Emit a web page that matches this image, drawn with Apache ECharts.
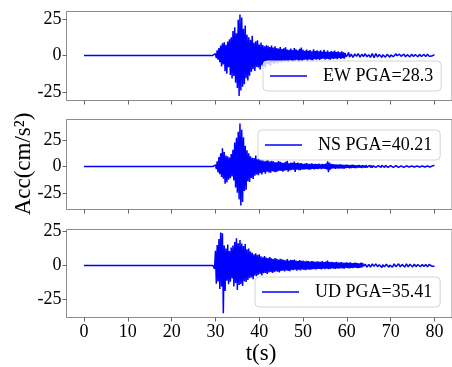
<!DOCTYPE html>
<html><head><meta charset="utf-8">
<script src="https://cdn.jsdelivr.net/npm/echarts@6.0.0/dist/echarts.min.js"></script>
<style>html,body{margin:0;padding:0;background:#fff}#c{width:452px;height:367px}</style>
</head><body><div id="c"></div>
<script>
// sampling of the record after the quiet pre-event part (s)
const T0 = 29.6, DT = 0.2;
const PRE_EVENT = [[0, 0], [29.4, 0]];

const EW = [
0.3,-0.4,1.2,-1.8,3.5,-2.9,5.2,-4.6,6.8,-7.5,
8.4,-6.2,9.1,-10.8,7.3,-12.5,9.6,-8.1,11.2,-13.4,
12.5,-15.8,16.9,-14.2,19.5,-18.7,15.3,-22.4,24.6,-27.9,
28.3,-24.1,26.2,-21.5,18.4,-19.8,20.7,-15.6,14.2,-17.3,
12.6,-13.9,10.8,-11.2,13.5,-9.4,8.7,-10.6,9.8,-7.9,
10.4,-8.2,7.5,-9.6,8.9,-6.8,7.2,-7.7,6.4,-8.5,
7.1,-5.9,6.6,-6.3,5.8,-7.1,6.9,-5.2,5.5,-6.0,
6.3,-4.8,5.1,-5.6,4.7,-4.2,5.9,-4.9,4.4,-3.8,
4.9,-4.3,5.6,-3.6,4.1,-4.7,3.9,-3.3,4.8,-4.1,
3.7,-3.9,5.2,-3.4,4.2,-3.0,3.6,-4.4,4.6,-3.2,
5.4,-3.7,3.9,-3.1,3.3,-2.8,4.1,-3.5,3.2,-2.7,
3.8,-3.2,2.9,-3.4,4.3,-2.6,3.1,-2.9,3.5,-2.5,
2.8,-3.1,3.6,-2.4,2.7,-2.2,3.9,-2.8,2.5,-2.3,
3.3,-2.6,2.4,-2.9,3.0,-2.1,2.6,-2.4,3.4,-2.0,
2.3,-2.5,2.8,-1.9,2.2,-2.3,2.9,-1.8,2.1,-2.2,
1.8,-0.9,-1.9,0.7,2.2,-1.2,-2.1,0.9,1.7,-1.4,
-1.8,1.1,2.0,-0.6,-1.9,1.3,1.6,-1.1,-1.7,0.8,
1.9,-0.7,-1.6,1.2,1.5,-0.9,-1.8,0.6,1.6,-1.3,
-1.2,1.4,0.9,-1.5,-0.8,1.3,1.1,-1.0,-1.4,0.7,
1.5,-0.4,-1.3,0.5,1.2,0.2,-1.1,-0.9,0.8,1.3,
-0.3,-1.2,0.4,1.1,0.6,-0.8,-1.0,0.5,1.2,-0.2,
-1.1,0.3,0.9,0.7,-0.6,-1.0,0.2,1.0,0.4,-0.9,
-0.7,0.6,1.1,-0.3,-1.0,0.1,0.9,0.5,-0.8,-0.6,
0.7,0.9,-0.4,-0.9,0.3,0.8,0.2,-0.7,-0.5,0.6,
0.8,-0.2,-0.8,0.4,0.9,-0.3,-0.6,0.5,0.7,-0.4,
-0.5,0.3,0.6
];

const NS = [
0.2,-0.5,1.5,-2.4,4.8,-5.6,8.9,-7.2,12.4,-9.8,
17.1,-11.5,13.6,-16.2,10.4,-14.8,9.7,-12.3,8.5,-10.9,
11.8,-9.4,15.6,-13.1,22.4,-19.7,26.8,-24.5,32.6,-30.8,
40.21,-36.4,34.5,-33.1,27.3,-22.8,19.4,-21.6,15.2,-13.7,
12.4,-14.5,9.6,-10.8,8.3,-11.6,7.9,-8.7,10.2,-7.4,
6.8,-8.1,7.4,-6.2,5.9,-7.3,6.5,-5.4,4.8,-6.6,
5.7,-4.9,6.1,-5.5,4.6,-5.8,5.3,-4.4,4.9,-5.1,
4.2,-5.4,3.9,-4.6,5.0,-3.8,4.3,-4.1,3.6,-4.8,
3.5,-3.9,4.4,-3.3,5.3,-4.9,3.1,-3.6,3.8,-3.2,
3.4,-2.9,4.7,-5.1,3.2,-2.8,3.6,-3.3,2.9,-3.5,
3.1,-2.7,2.6,-3.0,2.8,-2.4,3.3,-2.6,2.5,-2.9,
2.4,-2.6,2.9,-2.2,2.3,-2.7,2.6,-2.1,2.2,-2.5,
2.7,-2.0,2.1,-2.4,2.5,-1.9,2.3,-2.2,2.8,-2.6,
4.9,-5.2,3.6,-2.9,2.4,-2.0,2.2,-1.8,1.9,-2.1,
2.0,-1.7,1.8,-1.9,2.1,-1.6,1.7,-1.8,1.5,-1.9,
1.6,-1.4,1.8,-1.2,1.5,-1.6,1.3,-1.5,1.7,-1.1,
1.4,-1.3,1.1,-1.5,1.2,-1.0,1.4,-1.2,1.0,-1.3,
1.2,-0.9,1.0,-1.1,1.3,-0.8,0.9,-1.2,1.1,-0.9,
1.0,-1.1,0.8,-0.9,1.2,-0.7,0.9,-1.0,0.8,-0.9,
0.9,-0.8,1.1,-0.6,0.7,-0.9,1.0,-0.7,0.8,-0.8,
0.7,-0.9,0.8,-0.6,0.9,-0.7,0.6,-0.8,0.9,-0.6,
0.8,-0.7,0.6,-0.8,0.7,-0.5,0.8,-0.7,0.6,-0.6,
0.7,-0.6,0.8,-0.5,0.6,-0.7,0.5,-0.6,0.7,-0.5,
0.6,-0.7,0.5,-0.6,0.8,-0.4,0.6,-0.6,0.5,-0.7,
0.6,-0.5,0.7,-0.4,0.5,-0.6,0.7,-0.5,0.6,-0.4,
0.8,0.3,0.9
];

const UD = [
0.3,-2.5,10.8,-13.5,15.2,-11.8,19.6,-17.4,24.3,-15.6,
23.8,-35.41,14.7,-18.9,12.5,-11.3,15.4,-13.8,10.6,-12.1,
13.2,-9.7,14.8,-15.6,17.3,-12.9,20.1,-18.2,16.5,-14.4,
18.9,-13.7,16.2,-15.1,14.4,-11.6,15.8,-12.3,11.9,-10.8,
12.6,-9.5,10.3,-8.8,9.4,-10.1,8.2,-7.6,9.0,-7.9,
7.8,-6.9,8.3,-6.2,6.7,-7.4,6.1,-5.8,7.0,-5.5,
5.9,-6.3,5.4,-5.1,6.2,-4.8,5.3,-5.6,4.7,-5.0,
5.5,-4.4,4.9,-4.7,4.3,-5.2,5.0,-4.1,4.6,-3.9,
4.2,-4.5,3.8,-3.6,4.8,-4.0,3.7,-4.3,4.1,-3.4,
3.9,-3.5,4.4,-3.2,3.6,-3.8,3.3,-3.1,4.0,-3.6,
3.4,-3.0,3.7,-3.3,3.1,-3.5,3.5,-2.9,3.2,-3.1,
2.9,-3.2,3.3,-2.7,3.0,-2.8,2.7,-3.0,3.1,-2.6,
2.8,-2.5,2.6,-2.9,3.2,-2.4,2.5,-2.7,2.9,-2.3,
3.6,-2.8,2.4,-2.6,2.7,-2.2,2.5,-2.4,2.3,-2.5,
2.6,-2.1,2.3,-2.4,2.2,-1.9,2.4,-2.2,2.0,-2.3,
2.1,-1.8,2.3,-2.0,1.9,-2.1,2.2,-1.7,1.8,-2.0,
1.9,-1.6,2.1,-1.8,1.7,-1.9,1.6,-1.7,2.0,-1.5,
1.8,-0.6,-1.7,0.9,1.9,-1.2,-1.6,0.8,1.7,-1.3,
-1.5,1.1,1.6,-0.7,-1.4,1.2,1.5,-0.9,-1.6,0.6,
1.7,-0.8,-1.5,0.5,1.4,-1.0,-1.3,0.9,1.6,-0.4,
-1.4,0.3,1.3,0.6,-1.2,-0.8,1.1,1.0,-0.9,-1.3,
0.4,1.2,0.7,-1.1,-1.0,0.8,1.3,-0.3,-1.2,0.2,
1.1,0.5,-1.0,-0.7,0.9,1.0,-0.5,-1.1,0.3,0.9,
0.6,-0.9,-0.8,0.7,1.0,-0.2,-1.0,0.1,0.8,0.6,
-0.7,-0.6,0.8,0.5,-0.9,-0.3,0.7,0.6,-0.6,-0.5,
0.4,-0.3,-0.6
];

const SERIES_NAMES = ['EW PGA=28.3', 'NS PGA=40.21', 'UD PGA=35.41'];
const X_TICKS = [0, 10, 20, 30, 40, 50, 60, 70, 80];
const Y_TICKS = [-25, 0, 25];
const Y_RANGES = [[-31, 30.3], [-40.2, 44], [-38.5, 26.6]];
const X_RANGE = [-4, 84];
const Y_LABEL = 'Acc(cm/s²)';
const X_LABEL = 't(s)';

const FONT = '"Liberation Serif", "DejaVu Serif", serif';
const BLUE = '#0000ff';

function build(vals) {
  const d = PRE_EVENT.slice();
  vals.forEach((v, i) => d.push([Math.round((T0 + i * DT) * 10) / 10, v]));
  return d;
}
const all = [EW, NS, UD];

const gridPos = [
  {top: 11.5, height: 89},
  {top: 119.5, height: 90},
  {top: 229.5, height: 88}
];
const legendPos = [{left: 263, top: 61}, {left: 258, top: 130}, {left: 255, top: 277}];

const chart = echarts.init(document.getElementById('c'), null, {renderer: 'canvas'});
chart.setOption({
  animation: false,
  backgroundColor: '#fff',
  grid: gridPos.map(g => ({left: 66.5, top: g.top, width: 387, height: g.height,
    show: true, borderColor: '#8c8c8c', borderWidth: 1, backgroundColor: 'transparent'})),
  xAxis: gridPos.map((g, i) => ({
    type: 'value', gridIndex: i, min: X_RANGE[0], max: X_RANGE[1], position: 'bottom',
    axisLine: {show: false, onZero: false}, splitLine: {show: false},
    axisTick: {show: true, customValues: X_TICKS, length: 4, lineStyle: {color: '#666'}},
    axisLabel: {show: i === 2, customValues: X_TICKS, fontSize: 18, fontFamily: FONT, color: '#000', margin: 6}
  })),
  yAxis: gridPos.map((g, i) => ({
    type: 'value', gridIndex: i, min: Y_RANGES[i][0], max: Y_RANGES[i][1], position: 'left',
    axisLine: {show: false, onZero: false}, splitLine: {show: false},
    axisTick: {show: true, customValues: Y_TICKS, length: 4, lineStyle: {color: '#666'}},
    axisLabel: {customValues: Y_TICKS, fontSize: 18, fontFamily: FONT, color: '#000', margin: 5}
  })),
  legend: legendPos.map((p, i) => ({
    data: [SERIES_NAMES[i]], left: p.left, top: p.top, orient: 'horizontal',
    padding: [6, 8, 6, 7], itemWidth: 37, itemHeight: 1.5, icon: 'rect',
    borderColor: '#d4d4d4', borderWidth: 1, borderRadius: 4,
    backgroundColor: 'rgba(255,255,255,0.8)', selectedMode: false,
    textStyle: {fontSize: 18, fontFamily: FONT, color: '#000', padding: [0, 0, 0, 11]}
  })),
  series: all.map((vals, i) => ({
    type: 'line', name: SERIES_NAMES[i], xAxisIndex: i, yAxisIndex: i,
    data: build(vals), showSymbol: false, symbol: 'none', silent: true,
    lineStyle: {width: 1.5, color: BLUE}, itemStyle: {color: BLUE}
  })),
  graphic: [
    {type: 'text', x: 24, y: 164, rotation: Math.PI / 2,
     style: {text: Y_LABEL, font: '23px ' + FONT, fill: '#000', align: 'center', verticalAlign: 'middle'}},
    {type: 'text', x: 261, y: 354,
     style: {text: X_LABEL, font: '23px ' + FONT, fill: '#000', align: 'center', verticalAlign: 'middle'}}
  ]
});
</script>
</body></html>
